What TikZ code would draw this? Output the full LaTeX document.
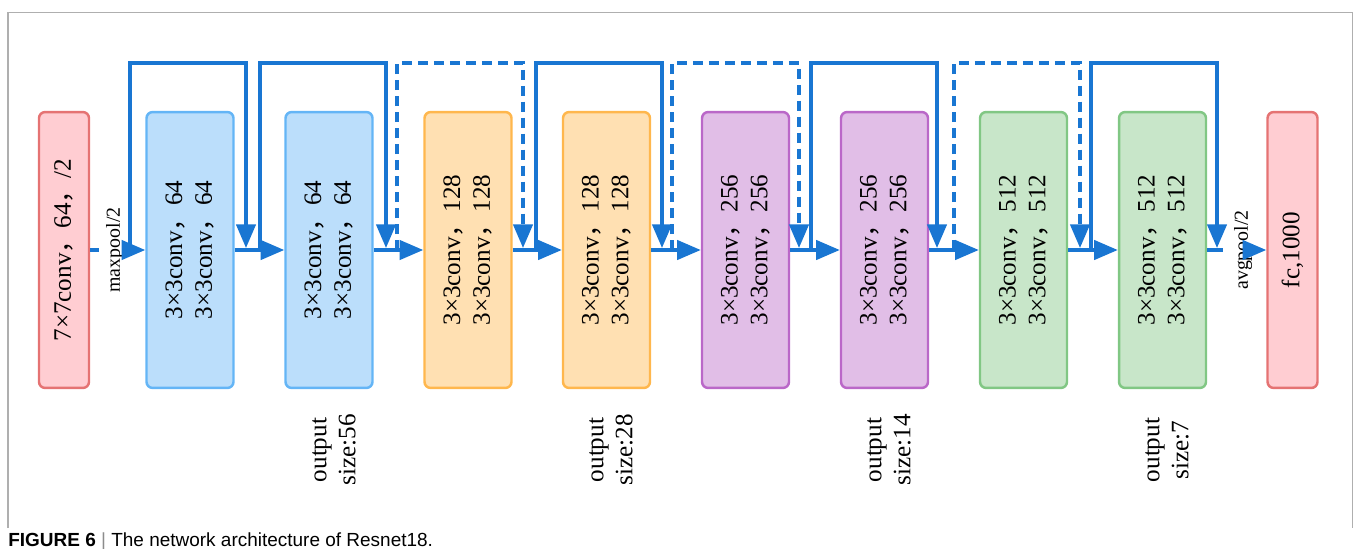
\documentclass[tikz,border=0pt]{standalone}
\usepackage{fontspec}
\setmainfont{Liberation Serif}
\newfontfamily\capfont{Liberation Sans}
\newfontfamily\cjk{Noto Sans CJK SC}
\usetikzlibrary{arrows.meta, positioning, calc}
\definecolor{stemred}{RGB}{255, 205, 210}
\definecolor{stemredline}{RGB}{229, 115, 115}
\definecolor{blkblue}{RGB}{187, 222, 251}
\definecolor{blkblueline}{RGB}{100, 181, 246}
\definecolor{blkorange}{RGB}{255, 224, 178}
\definecolor{blkorangeline}{RGB}{255, 183, 77}
\definecolor{blkpurple}{RGB}{225, 190, 231}
\definecolor{blkpurpleline}{RGB}{186, 104, 200}
\definecolor{blkgreen}{RGB}{200, 230, 201}
\definecolor{blkgreenline}{RGB}{129, 199, 132}
\definecolor{flowblue}{RGB}{25, 118, 210}
\definecolor{framegray}{RGB}{175, 175, 175}
\definecolor{bargray}{RGB}{140, 140, 140}
\newcommand{\fwc}{{\cjk ，}}

\begin{document}
\begin{tikzpicture}[
  x=0.02cm, y=-0.02cm,
  box/.style={draw, line width=1.4pt, rounded corners=3.5pt, rotate=90, minimum width=5.52cm, minimum height=1.74cm, inner sep=0pt, align=center, font=\fontsize{14.3}{17}\selectfont},
  stembox/.style={box, fill=stemred, draw=stemredline, minimum height=1.0cm},
  flow/.style={flowblue, line width=2pt},
  arr/.style={flow, -{Triangle[length=13.5pt, width=11pt]}},
  dashskip/.style={dash pattern=on 5.7pt off 3.4pt},
  poollbl/.style={rotate=90, inner sep=0pt, font=\fontsize{11.3}{13}\selectfont},
  outlbl/.style={rotate=90, align=center, inner sep=0pt, font=\fontsize{14.3}{16.5}\selectfont}
]
  \useasboundingbox (0,0) rectangle (1356,548);

  % Frame
  \draw[framegray, line width=0.6pt] (8,528) -- (8,12.5) -- (1352.5,12.5) -- (1352.5,528);

  % Stem and residual blocks
  \node[stembox] (b0) at (64,250) {7×7conv\fwc 64\fwc /2};
  \node[box, fill=blkblue, draw=blkblueline] (b1) at (190,250) {3×3conv\fwc 64\\3×3conv\fwc 64};
  \node[box, fill=blkblue, draw=blkblueline] (b2) at (329,250) {3×3conv\fwc 64\\3×3conv\fwc 64};
  \node[box, fill=blkorange, draw=blkorangeline] (b3) at (468,250) {3×3conv\fwc 128\\3×3conv\fwc 128};
  \node[box, fill=blkorange, draw=blkorangeline] (b4) at (606.5,250) {3×3conv\fwc 128\\3×3conv\fwc 128};
  \node[box, fill=blkpurple, draw=blkpurpleline] (b5) at (745.5,250) {3×3conv\fwc 256\\3×3conv\fwc 256};
  \node[box, fill=blkpurple, draw=blkpurpleline] (b6) at (884.5,250) {3×3conv\fwc 256\\3×3conv\fwc 256};
  \node[box, fill=blkgreen, draw=blkgreenline] (b7) at (1023.5,250) {3×3conv\fwc 512\\3×3conv\fwc 512};
  \node[box, fill=blkgreen, draw=blkgreenline] (b8) at (1162.5,250) {3×3conv\fwc 512\\3×3conv\fwc 512};
  \node[stembox] (b9) at (1292.5,250) {fc,1000};

  % Pooling labels
  \node[poollbl] (maxpool) at (115,250) {maxpool/2};
  \node[poollbl] (avgpool) at (1243,250) {avgpool/2};

  % Helper points on the main line
  \coordinate (top) at (0,63);
  \coordinate (m0) at (99,250);
  \coordinate (p1) at (123,250);
  \coordinate (a8) at (1223,250);
  \coordinate (p9) at (1244,250);
  \coordinate (s1) at (130,250);   \coordinate (e1) at (246,248);
  \coordinate (s2) at (260,250);   \coordinate (e2) at (386,248);
  \coordinate (s3) at (397,250);   \coordinate (e3) at (523,248);
  \coordinate (s4) at (536,250);   \coordinate (e4) at (662,248);
  \coordinate (s5) at (672,250);   \coordinate (e5) at (799,248);
  \coordinate (s6) at (811,250);   \coordinate (e6) at (937,248);
  \coordinate (s7) at (954,250);   \coordinate (e7) at (1080,248);
  \coordinate (s8) at (1091,250);  \coordinate (e8) at (1217,248);

  % Main line
  \draw[flow, dashskip] (b0) -- (m0);
  \draw[arr] (p1) -- (b1);
  \draw[arr] (b1) -- (b2);
  \draw[arr] (b2) -- (b3);
  \draw[arr] (b3) -- (b4);
  \draw[arr] (b4) -- (b5);
  \draw[arr] (b5) -- (b6);
  \draw[arr] (b6) -- (b7);
  \draw[arr] (b7) -- (b8);
  \draw[flow] (b8) -- (a8);
  \draw[arr] (p9) -- (b9);

  % Shortcuts
  \draw[arr] (s1) -- (s1 |- top) -| (e1);
  \draw[arr] (s2) -- (s2 |- top) -| (e2);
  \draw[arr, dashskip] (s3) -- (s3 |- top) -| (e3);
  \draw[arr] (s4) -- (s4 |- top) -| (e4);
  \draw[arr, dashskip] (s5) -- (s5 |- top) -| (e5);
  \draw[arr] (s6) -- (s6 |- top) -| (e6);
  \draw[arr, dashskip] (s7) -- (s7 |- top) -| (e7);
  \draw[arr] (s8) -- (s8 |- top) -| (e8);

  % Output sizes
  \node[outlbl] (out56) at (334,450) {output\\size:56};
  \node[outlbl] (out28) at (611,450) {output\\size:28};
  \node[outlbl] (out14) at (889,450) {output\\size:14};
  \node[outlbl] (out7) at (1167,450) {output\\size:7};

  % Caption
  \node[anchor=base west, inner sep=0pt, font=\capfont\fontsize{10.8}{13}\selectfont] (caption) at (8,546) {\textbf{FIGURE 6} {\color{bargray}|} The network architecture of Resnet18.};
\end{tikzpicture}
\end{document}
